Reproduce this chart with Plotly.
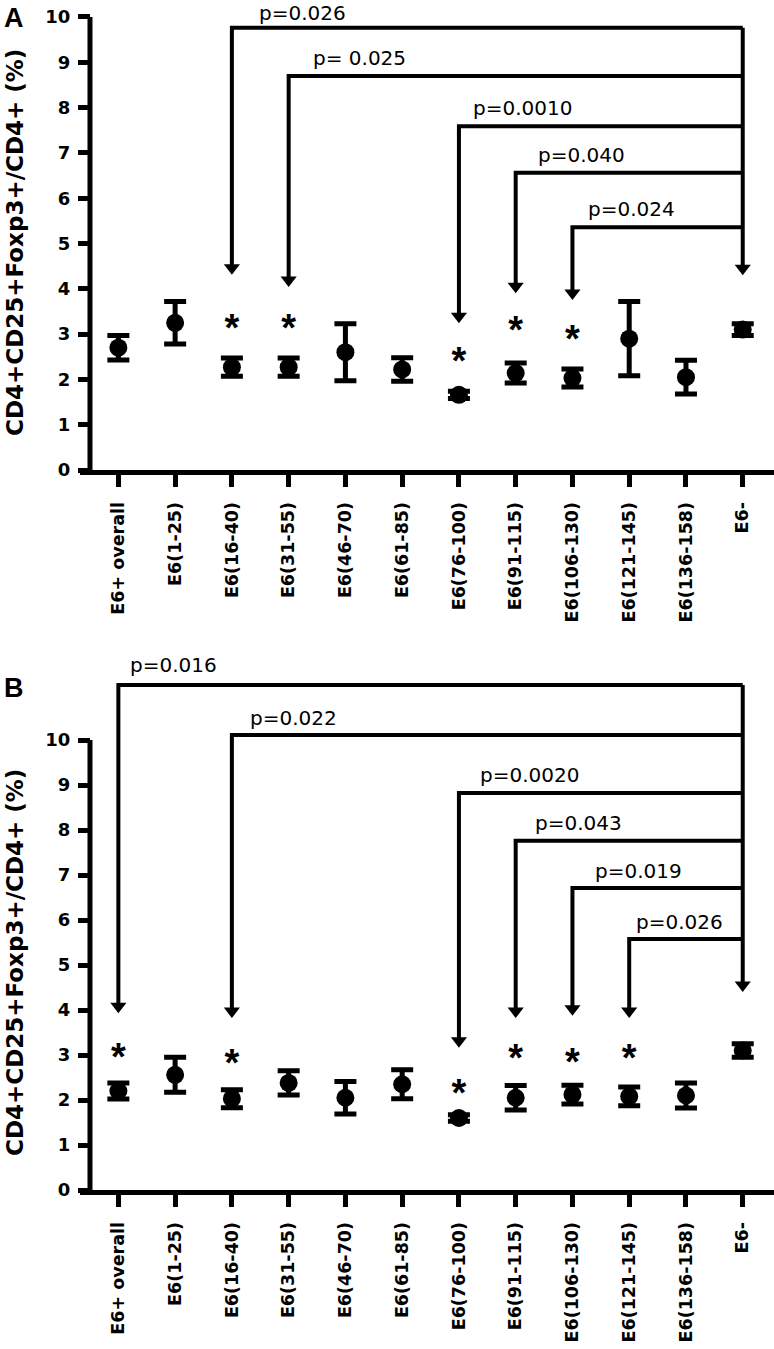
import plotly.graph_objects as go

# ---------------- data ----------------
categories = ["E6+ overall", "E6(1-25)", "E6(16-40)", "E6(31-55)", "E6(46-70)",
              "E6(61-85)", "E6(76-100)", "E6(91-115)", "E6(106-130)",
              "E6(121-145)", "E6(136-158)", "E6-"]

mean_a = [2.70, 3.25, 2.27, 2.27, 2.60, 2.22, 1.66, 2.14, 2.03, 2.90, 2.05, 3.10]
err_a = [0.27, 0.47, 0.20, 0.20, 0.63, 0.26, 0.08, 0.22, 0.20, 0.82, 0.37, 0.13]

mean_b = [2.20, 2.56, 2.03, 2.38, 2.05, 2.35, 1.60, 2.05, 2.12, 2.08, 2.10, 3.10]
err_b = [0.18, 0.39, 0.20, 0.27, 0.36, 0.32, 0.07, 0.27, 0.21, 0.21, 0.28, 0.15]

star_idx_a = [2, 3, 6, 7, 8]
star_y_a = [3.22, 3.22, 2.49, 3.16, 2.96]
star_idx_b = [0, 2, 6, 7, 8, 9]
star_y_b = [3.04, 2.89, 2.24, 3.02, 2.93, 3.02]

ref_idx = 11
comp_idx_a = [2, 3, 6, 7, 8]
comp_p_a = ["p=0.026", "p= 0.025", "p=0.0010", "p=0.040", "p=0.024"]
comp_level_a = [9.76, 8.70, 7.59, 6.56, 5.36]
comp_tip_a = [4.31, 4.04, 3.24, 3.90, 3.75]
ref_tip_a = 4.30

comp_idx_b = [0, 2, 6, 7, 8, 9]
comp_p_b = ["p=0.016", "p=0.022", "p=0.0020", "p=0.043", "p=0.019", "p=0.026"]
comp_level_b = [11.22, 10.11, 8.82, 7.76, 6.71, 5.58]
comp_tip_b = [3.93, 3.82, 3.16, 3.82, 3.87, 3.82]
ref_tip_b = 4.40

y_ticks = list(range(0, 11))
ytitle = "CD4+CD25+Foxp3+/CD4+ (%)"

# ---------------- layout geometry ----------------
W, H = 774, 1349
B_MARGIN = 159
PLOT_H = H - B_MARGIN  # 1190
X_RANGE = [-0.676, 11.551]
A_TOP_PX, A_BOT_PX = 0, 470
B_TOP_PX, B_BOT_PX = 650, 1190
A_RANGE = [0, 10.375]
B_RANGE = [0, 12.0]

def pdom(top_px, bot_px):
    return [(PLOT_H - bot_px) / PLOT_H, (PLOT_H - top_px) / PLOT_H]

BOLD = "DejaVu Sans"
fig = go.Figure()
shapes = []
annotations = []

panels = [
    ("x", "y", mean_a, err_a, star_idx_a, star_y_a, comp_idx_a, comp_p_a, comp_level_a,
     comp_tip_a, ref_tip_a, A_RANGE, (A_TOP_PX, A_BOT_PX), [25, 22, 12, 20, 14],
     [15, 18, 18, 18, 18]),
    ("x2", "y2", mean_b, err_b, star_idx_b, star_y_b, comp_idx_b, comp_p_b, comp_level_b,
     comp_tip_b, ref_tip_b, B_RANGE, (B_TOP_PX, B_BOT_PX), [10, 16, 19, 17, 21, 5],
     [20, 17, 18, 18, 17, 17]),
]

for (xr, yr, mean, err, sidx, sy, cidx, cp, clev, ctip, rtip, yrange, (tp, bp), xsh, ysh) in panels:
    ppu = (bp - tp) / (yrange[1] - yrange[0])
    # points with error bars
    fig.add_trace(go.Scatter(
        x=list(range(len(categories))), y=mean, xaxis=xr, yaxis=yr, mode="markers",
        marker=dict(symbol="circle", size=18, color="black"),
        error_y=dict(type="data", array=err, visible=True, thickness=5, width=11, color="black"),
        showlegend=False, hoverinfo="skip"))
    # asterisks
    fig.add_trace(go.Scatter(
        x=sidx, y=[v - 7 / ppu for v in sy], xaxis=xr, yaxis=yr, mode="text", text=["*"] * len(sidx),
        textposition="middle center",
        textfont=dict(family="Liberation Sans", size=38, color="black", weight="bold"),
        showlegend=False, hoverinfo="skip", cliponaxis=False))
    # brackets
    for i, lev, tip in zip(cidx, clev, ctip):
        shapes.append(dict(type="path", xref=xr, yref=yr,
                           path=f"M {i},{tip + 9 / ppu} L {i},{lev} L {ref_idx},{lev}",
                           line=dict(color="black", width=4)))
    shapes.append(dict(type="path", xref=xr, yref=yr,
                       path=f"M {ref_idx},{max(clev)} L {ref_idx},{rtip + 9 / ppu}",
                       line=dict(color="black", width=4)))
    # arrow heads
    tips_x = list(cidx) + [ref_idx]
    tips_y = list(ctip) + [rtip]
    fig.add_trace(go.Scatter(
        x=tips_x, y=[t + 7 / ppu for t in tips_y], xaxis=xr, yaxis=yr, mode="markers",
        marker=dict(symbol="triangle-down", size=14, color="black"),
        showlegend=False, hoverinfo="skip", cliponaxis=False))
    # p labels
    for i, lev, txt, s, ys in zip(cidx, clev, cp, xsh, ysh):
        annotations.append(dict(x=i, y=lev, xref=xr, yref=yr, text=txt, showarrow=False,
                                xanchor="left", yanchor="middle", xshift=s, yshift=ys,
                                font=dict(family="DejaVu Sans", size=20, color="black")))
    # y axis line (stops at 10)
    shapes.append(dict(type="line", xref=xr, yref=yr, x0=-0.5, x1=-0.5, y0=0, y1=10,
                       line=dict(color="black", width=5)))

annotations.append(dict(x=15 / W, y=(PLOT_H - 243) / PLOT_H, xref="paper", yref="paper",
                        text=ytitle, textangle=-90, showarrow=False, xanchor="center", yanchor="middle",
                        font=dict(family=BOLD, size=23, color="black", weight="bold")))
annotations.append(dict(x=15 / W, y=(PLOT_H - 963) / PLOT_H, xref="paper", yref="paper",
                        text=ytitle, textangle=-90, showarrow=False, xanchor="center", yanchor="middle",
                        font=dict(family=BOLD, size=23, color="black", weight="bold")))
annotations.append(dict(x=14 / W, y=(PLOT_H - 18) / PLOT_H, xref="paper", yref="paper",
                        text="A", showarrow=False, xanchor="center", yanchor="middle",
                        font=dict(family="Liberation Sans", size=27, color="black", weight="bold")))
annotations.append(dict(x=14 / W, y=(PLOT_H - 688) / PLOT_H, xref="paper", yref="paper",
                        text="B", showarrow=False, xanchor="center", yanchor="middle",
                        font=dict(family="Liberation Sans", size=27, color="black", weight="bold")))

xaxis_common = dict(
    domain=[80 / W, 1], range=X_RANGE, showgrid=False, zeroline=False,
    showline=True, linecolor="black", linewidth=5,
    tickmode="array", tickvals=list(range(len(categories))), ticktext=categories,
    ticks="outside", ticklen=12, tickwidth=5, tickcolor="black", tickangle=-90,
    ticklabelstandoff=8,
    tickfont=dict(family=BOLD, size=17.5, color="black", weight="bold"),
)
yaxis_common = dict(
    anchor="free", position=90 / W, showgrid=False, zeroline=False, showline=False,
    tickmode="array", tickvals=y_ticks, ticks="outside", ticklen=12, tickwidth=5,
    tickcolor="black", ticklabelstandoff=4,
    tickfont=dict(family=BOLD, size=18, color="black", weight="bold"),
)

fig.update_layout(
    width=W, height=H, template="none",
    margin=dict(l=0, r=0, t=0, b=B_MARGIN, pad=0),
    paper_bgcolor="white", plot_bgcolor="white", showlegend=False,
    xaxis=dict(anchor="y", **xaxis_common),
    yaxis=dict(domain=pdom(A_TOP_PX, A_BOT_PX), range=A_RANGE, **yaxis_common),
    xaxis2=dict(anchor="y2", **xaxis_common),
    yaxis2=dict(domain=pdom(B_TOP_PX, B_BOT_PX), range=B_RANGE, **yaxis_common),
    shapes=shapes, annotations=annotations,
)

fig.write_html("out.html", config={"displayModeBar": False},
               post_script="document.body.style.margin='0';")
